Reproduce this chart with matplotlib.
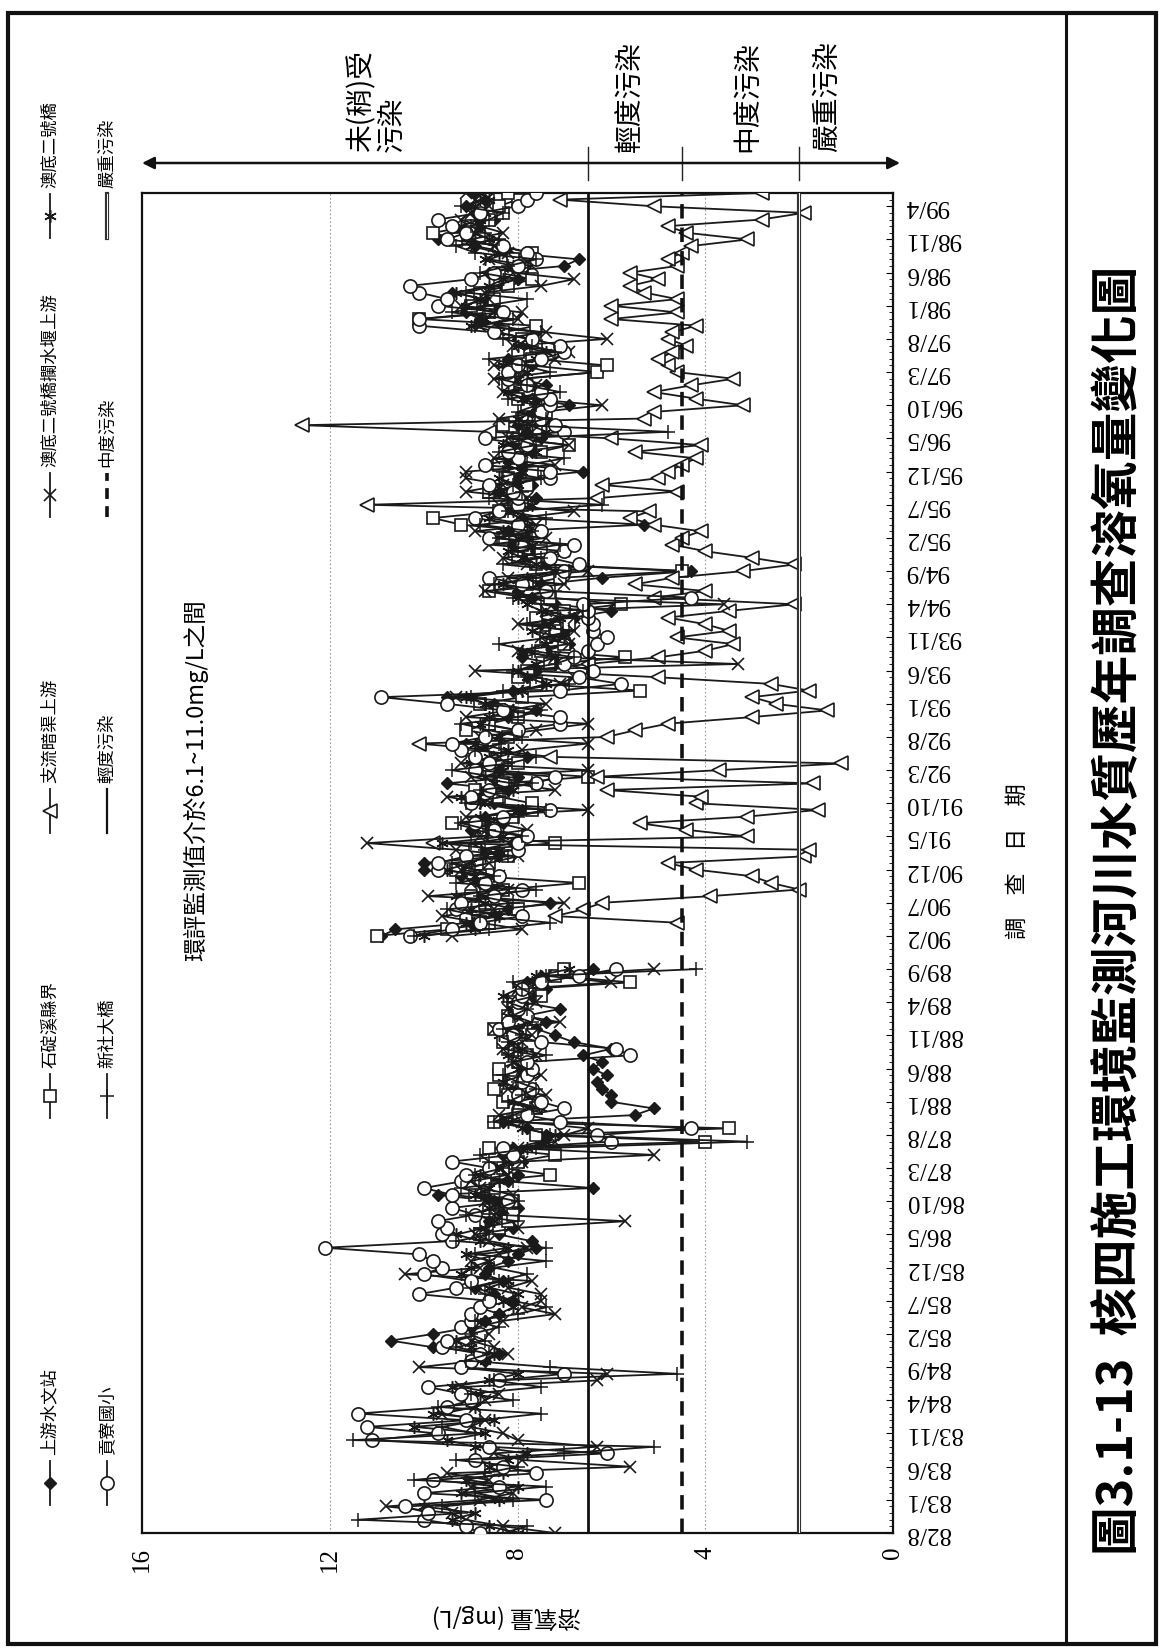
import numpy as np
import matplotlib
matplotlib.use("Agg")
import matplotlib.pyplot as plt
from matplotlib.patches import Rectangle
from matplotlib.lines import Line2D
from matplotlib.transforms import blended_transform_factory

plt.rcParams['font.family'] = ['Noto Sans CJK TC', 'DejaVu Sans']

N = None

# ---- survey date tick labels (ROC year / month), one every 5 months ----
date_labels = ["82/8", "83/1", "83/6", "83/11", "84/4", "84/9", "85/2", "85/7",
               "85/12", "86/5", "86/10", "87/3", "87/8", "88/1", "88/6", "88/11",
               "89/4", "89/9", "90/2", "90/7", "90/12", "91/5", "91/10", "92/3",
               "92/8", "93/1", "93/6", "93/11", "94/4", "94/9", "95/2", "95/7",
               "95/12", "96/5", "96/10", "97/3", "97/8", "98/1", "98/6", "98/11", "99/4"]

# ---- monthly dissolved oxygen (mg/L), 82/8 .. 99/6 ----
shangyou = [N] * 26 + [
    8.7, 8.4, 9.8, 10.7,
    9.8, 9.0, 8.7, 8.4, 8.8, 8.1, 8.5, 8.9, 8.3, 8.7,
    8.6, 8.2, 8.0, 7.6, 7.7, 8.4, 8.1, 8.6, 8.3, 8.0,
    8.5, 9.7, 6.4, 8.2, 8.0, 8.4, 7.9, 8.3, 8.1, 7.5,
    7.4, 7.8, 8.3, 5.5, 5.1, 6.0, 6.0, 6.2, 6.3, 6.1,
    6.4, 6.2, 6.6, 6.0, 6.8, 7.2, 7.6, 7.4, 7.8, 7.1,
    7.9, 7.7, 7.4, 7.8, 7.5, 6.4, N, N, N, N,
    10.9, 10.6, 9.0, 8.5, 8.2, 7.3, 8.9, 8.4, 8.8, 9.2,
    10.0, 10.0, 8.4, 8.8, 8.1, 8.6, 9.0, 8.3, 8.7, 7.9,
    8.5, 8.9, 8.2, 9.5, 8.0, 8.4, 8.8, 7.8, 8.6, 9.1,
    8.3, 8.0, 8.7, 8.2, 7.6, 8.5, 9.5, 8.1, 7.5, 7.8,
    7.6, 7.2, 7.9, 7.4, 6.9, 7.3, 7.0, 7.5, 6.8, 6.0,
    7.2, 7.7, 8.0, 7.5, 6.2, 4.3, 7.4, 7.9, 7.6, 8.1,
    7.8, 8.2, 5.3, 7.9, 8.3, 8.0, 7.6, 8.4, 7.7, 8.0,
    6.6, 7.9, 8.2, 7.7, 8.1, 7.5, 7.8, 8.0, 7.4, 7.7,
    6.9, 7.6, 8.1, 7.4, 7.9, 6.3, 7.7, 8.2, 7.5, 7.9,
    8.0, 7.6, 8.4, 8.8, 9.1, 8.5, 8.7, 9.4, 8.3, 8.0,
    8.6, 7.0, 6.7, 8.2, 8.9, 9.7, 9.3, 8.8, 8.5, 8.9,
    9.1, 8.7, 8.9]

shiding = [N] * 45 + [
    8.8, 8.4, 8.2, 8.1, 8.6,
    8.1, 8.9, 8.5, 8.7, 7.3, 8.3, 8.0, 7.2, 8.6, 4.0,
    7.6, 3.5, 8.5, 8.0, 7.6, 8.3, 8.2, 8.5, 8.1, 8.4,
    8.4, 8.0, 7.8, 8.2, 8.3, 7.7, 8.5, 8.0, 8.2, 7.9,
    8.1, 7.5, 7.8, 5.6, 7.2, 7.0, N, N, N, N,
    11.0, 9.5, 8.6, 9.1, 8.0, 8.7, 9.0, 8.3, 6.7, 8.8,
    9.3, 8.6, 8.2, 8.9, 7.2, 8.5, 8.8, 9.4, 8.1, 7.7,
    7.7, 8.4, 8.9, 8.3, 6.5, 8.6, 8.0, 8.7, 9.0, 8.5,
    8.2, 9.1, 8.6, 8.0, 8.4, 8.8, 7.9, 5.4, 7.6, 8.0,
    7.8, 7.3, 5.7, 7.5, 7.0, 7.4, 7.2, 6.9, 7.6, 7.0,
    5.8, 7.3, 8.6, 7.8, 7.1, 4.5, 7.6, 8.0, 7.5, 7.9,
    8.3, 7.6, 9.2, 9.8, 8.4, 7.9, 8.1, 8.6, 7.8, 8.2,
    7.7, 8.4, 8.0, 7.5, 6.9, 8.1, 7.6, 8.3, 7.9, 7.4,
    7.8, 8.0, 7.5, 8.2, 7.9, 6.3, 6.1, 7.7, 8.0, 7.6,
    7.9, 8.3, 7.6, 10.1, 8.6, 9.0, 8.5, 8.8, 8.2, 7.7,
    8.4, 7.9, 8.1, 7.7, 8.4, 9.3, 9.8, 9.0, 8.6, 8.3,
    8.4, 8.0, 8.2]

zhiliu = [N] * 92 + [
    4.6, 7.2, 6.6, 6.2, 3.9, 2.0, 2.6, 3.0, 4.2, 4.8,
    1.9, 1.8, 9.8, 3.1, 4.4, 5.4, 3.1, 1.6, 4.2, 4.1,
    6.1, 1.7, 6.3, 3.7, 1.1, 7.3, 8.5, 10.1, 6.1, 5.5,
    4.8, 3.0, 1.4, 2.5, 3.0, 1.8, 2.6, 5.0, 7.8, 6.5,
    5.0, 4.0, 3.4, 4.6, 3.5, 4.0, 4.8, 3.5, 2.1, 5.1,
    4.0, 5.5, 4.7, 3.2, 2.1, 3.0, 4.0, 4.7, 4.5, 4.1,
    5.1, 5.6, 5.2, 11.2, 6.3, 4.6, 6.2, 5.0, 4.8, 4.5,
    4.2, 5.5, 4.1, 6.0, 8.6, 12.6, 5.3, 5.1, 3.2, 4.2,
    5.1, 4.3, 3.4, 4.6, 4.8, 5.0, 4.7, 4.4, 4.8, 4.7,
    4.2, 6.0, 4.6, 6.0, 4.6, 5.3, 5.6, 5.0, 5.6, 4.6,
    4.8, 4.5, 4.3, 3.1, 4.4, 4.8, 2.8, 1.9, 5.1, 7.1,
    2.8]

aodi_weir = [
    7.2, 8.3, 9.1, 9.4, 10.8, 8.8, 8.1, 9.0, 8.6, 9.5,
    5.6, 7.9, 8.5, 6.3, 8.0, 8.3, 9.0, 8.7, 9.6, 8.9,
    8.7, 8.4, 9.2, 6.3, 6.1, 10.1, 8.8, 8.2, 8.5, 9.0,
    8.6, 8.9, 8.3, 7.2, 7.9, 7.5, 7.5, 8.2, 7.7, 10.4,
    8.8, 9.0, 8.4, 7.8, 8.6, 8.9, 8.0, 5.7, 8.5, 8.3,
    8.7, 8.1, 8.8, 9.0, 8.2, 8.4, 7.9, 5.1, 8.0, 7.2,
    7.0, 6.5, 7.9, 8.4, 7.6, 8.0, 7.4, 8.2, 7.8, 7.5,
    7.9, 8.1, 7.6, 8.3, 7.9, 7.7, 8.5, 7.1, 7.9, 8.2,
    7.6, 7.8, 8.0, 6.0, 7.4, 5.1, N, N, N, N,
    9.4, 7.9, 8.8, 9.6, 8.5, 7.0, 9.9, 8.2, 9.0, 8.4,
    9.2, 8.6, 8.0, 9.3, 11.2, 8.8, 7.8, 8.4, 9.1, 6.5,
    8.7, 9.5, 7.2, 8.1, 9.0, 6.5, 9.2, 8.4, 7.9, 6.5,
    8.8, 7.6, 6.5, 9.1, 8.2, 7.4, 9.3, 8.0, 7.1, 6.8,
    8.9, 3.3, 7.2, 8.0, 6.9, 7.5, 6.8, 8.0, 6.8, 7.4,
    3.6, 7.8, 8.7, 7.0, 8.2, 6.5, 7.8, 8.3, 7.0, 8.6,
    7.4, 8.9, 7.6, 8.0, 6.8, 8.4, 7.8, 9.1, 8.3, 9.1,
    9.1, 7.2, 8.5, 7.9, 6.9, 8.2, 7.7, 7.9, 8.4, 7.5,
    6.2, 7.8, 8.3, 7.6, 8.5, 8.0, 8.5, 7.2, 6.9, 8.1,
    6.1, 7.4, 8.8, 8.0, 7.9, 9.2, 8.6, 8.7, 7.5, 6.8,
    8.1, 7.7, 8.6, 8.2, 8.5, 9.0, 8.3, 8.8, 9.2, 9.0,
    8.6, 8.9, 9.1]

aodi = [
    8.0, 8.6, 9.4, 8.9, 10.0, 8.4, 9.2, 8.0, 9.1, 8.3,
    8.6, 8.2, 7.8, 8.9, 9.5, 8.7, 10.2, 8.5, 9.8, 8.9,
    9.1, 8.8, 9.4, 8.6, 8.0, 9.2, 8.7, 8.5, 9.0, 9.3,
    8.8, 9.2, 8.7, 8.4, 8.1, 8.3, 8.0, 8.6, 8.2, 9.2,
    9.0, 8.6, 9.1, 8.2, 8.8, 9.3, 8.7, 8.5, 8.9, 8.6,
    8.4, 8.9, 8.6, 8.4, 8.8, 8.5, 8.2, 8.0, 7.8, 7.4,
    7.2, 7.9, 8.2, 7.8, 7.5, 8.1, 7.7, 8.0, 8.3, 7.9,
    8.0, 7.7, 8.2, 7.9, 8.1, 8.4, 8.0, 7.8, 8.2, 8.1,
    7.9, 8.3, 8.0, 7.7, 7.6, 6.9, N, N, N, N,
    10.0, 8.9, 9.1, 8.4, 9.0, 8.7, 9.3, 8.5, 8.8, 8.9,
    9.5, 9.0, 8.7, 8.4, 9.6, 8.3, 8.9, 8.6, 8.8, 8.0,
    8.8, 9.2, 8.1, 8.5, 8.7, 8.3, 9.0, 8.6, 8.2, 8.9,
    8.4, 8.0, 8.8, 8.6, 8.1, 8.7, 9.1, 7.9, 7.4, 7.8,
    8.0, 7.6, 7.2, 7.9, 7.4, 7.0, 7.7, 7.3, 7.1, 7.5,
    7.8, 8.0, 7.4, 8.3, 7.8, 7.2, 7.6, 7.9, 8.2, 7.7,
    8.0, 8.3, 7.8, 8.6, 8.1, 7.7, 8.2, 8.5, 8.0, 8.4,
    7.9, 8.2, 8.0, 7.6, 8.3, 7.8, 7.4, 7.7, 8.0, 7.6,
    7.5, 7.9, 8.2, 7.7, 8.0, 7.8, 8.3, 7.6, 7.4, 8.0,
    7.8, 8.4, 9.0, 8.7, 8.5, 9.1, 8.8, 9.3, 8.6, 8.3,
    8.5, 8.1, 8.7, 8.4, 9.0, 8.6, 8.9, 9.2, 8.8, 8.7,
    8.9, 8.6, 8.8]

gongliao = [
    8.8, 9.1, 10.0, 9.9, 10.4, 7.4, 10.0, 8.4, 9.8, 7.6,
    8.3, 8.9, 6.1, 8.6, 11.1, 9.7, 11.2, 9.1, 11.4, 9.5,
    9.0, 9.2, 9.9, 8.4, 7.0, 9.2, 9.0, 8.8, 9.6, 9.5,
    8.8, 9.2, 9.0, 9.0, 8.8, 8.6, 10.1, 9.3, 9.0, 10.0,
    9.6, 9.8, 10.1, 12.1, 9.4, 9.6, 9.5, 9.7, 8.9, 9.4,
    8.2, 9.4, 10.0, 9.2, 9.1, 8.6, 9.4, 8.1, 8.3, 6.0,
    6.3, 4.3, 7.1, 7.8, 7.0, 7.5, 8.0, 7.7, 7.9, 7.8,
    7.7, 7.8, 5.6, 5.9, 7.5, 8.1, 8.4, 8.2, 7.8, 8.0,
    8.0, 7.9, 7.9, 7.5, 6.7, 5.9, N, N, N, N,
    10.3, 9.4, 8.8, 7.9, 9.3, 9.2, 8.5, 7.9, 8.7, 8.4,
    9.7, 9.7, 9.1, 8.0, 8.0, 7.8, 8.5, 8.9, 8.3, 7.3,
    9.0, 9.0, 8.6, 7.6, 7.2, 8.9, 8.6, 8.9, 9.2, 9.4,
    8.7, 8.0, 7.1, 7.1, 8.3, 9.5, 10.9, 7.1, 5.8, 6.7,
    6.4, 7.0, 6.8, 6.5, 6.3, 6.1, 6.4, 6.4, 6.5, 6.5,
    6.6, 4.3, 7.4, 7.9, 8.6, 7.0, 6.7, 7.3, 7.0, 6.8,
    8.6, 7.5, 8.0, 8.9, 8.4, 8.0, 8.0, 8.1, 8.6, 7.3,
    7.3, 8.7, 8.0, 8.2, 7.8, 8.7, 7.0, 7.2, 7.5, 7.5,
    7.3, 7.3, 7.5, 7.8, 8.2, 8.2, 8.0, 7.5, 7.0, 7.1,
    7.7, 8.5, 10.1, 10.1, 8.3, 9.7, 9.5, 10.1, 10.3, 9.0,
    8.5, 8.0, 7.6, 7.8, 8.3, 9.5, 9.1, 9.4, 9.7, 8.8,
    8.0, 7.8, 7.6]

xinshe = [
    8.3, 7.8, 11.4, 9.2, 9.6, 8.1, 8.9, 7.4, 10.2, 8.7,
    8.0, 9.3, 7.0, 5.1, 11.5, 8.9, 9.6, 8.8, 7.5, 9.7,
    8.1, 9.0, 7.5, 8.5, 4.6, 7.3, 9.1, 8.6, 9.3, 8.7,
    9.0, 8.4, 8.9, 8.0, 7.4, 8.1, 8.7, 9.0, 8.4, 7.8,
    8.5, 7.4, 8.9, 7.4, 9.3, 8.6, 8.8, 8.0, 9.1, 8.4,
    8.0, 8.7, 9.2, 8.1, 8.9, 8.3, 8.6, 8.8, 7.6, 3.1,
    7.3, 7.8, 8.5, 8.1, 7.7, 8.2, 7.9, 7.6, 8.0, 8.3,
    7.8, 8.1, 7.4, 8.0, 8.2, 7.9, 8.3, 7.7, 8.1, 7.8,
    8.2, 7.6, 7.9, 8.1, 7.4, 4.2, N, N, N, N,
    10.2, 8.6, 7.3, 8.8, 9.5, 8.1, 8.8, 7.6, 9.3, 8.5,
    8.9, 9.4, 8.2, 8.7, 9.0, 7.9, 8.6, 9.2, 8.0, 7.4,
    9.1, 8.3, 8.8, 7.7, 8.5, 9.4, 8.2, 7.6, 8.9, 8.4,
    7.9, 8.6, 9.2, 8.0, 7.5, 8.7, 9.0, 8.3, 6.9, 7.6,
    8.1, 7.2, 6.8, 7.7, 8.4, 7.3, 6.9, 7.8, 7.1, 6.6,
    7.5, 8.1, 7.2, 8.5, 7.6, 6.9, 8.3, 7.5, 8.0, 7.1,
    8.4, 7.7, 8.8, 7.4, 8.2, 6.2, 8.6, 7.9, 8.1, 7.5,
    8.3, 7.8, 7.0, 8.4, 7.6, 8.1, 4.8, 7.9, 7.4, 8.0,
    7.6, 8.2, 7.1, 7.8, 8.4, 7.3, 7.9, 8.6, 7.2, 7.7,
    8.3, 7.5, 8.9, 8.1, 9.4, 8.7, 7.8, 9.1, 8.5, 8.0,
    8.8, 8.2, 7.6, 8.9, 9.3, 8.4, 8.7, 9.0, 8.6, 8.3,
    9.2, 8.7, 8.5]

# RPI dissolved-oxygen class limits (mg/L)
light_limit = 6.5
moderate_limit = 4.5
severe_limit = 2.0

stations = ["上游水文站", "石碇溪縣界", "支流暗渠上游", "澳底二號橋攔水堰上游",
            "澳底二號橋", "貢寮國小", "新社大橋"]
station_values = [shangyou, shiding, zhiliu, aodi_weir, aodi, gongliao, xinshe]

category_labels = ["未(稍)受\n污染", "輕度污染", "中度污染", "嚴重污染"]

# ------------------------------------------------------------------
W, H = 1160, 1652
fig = plt.figure(figsize=(W / 100, H / 100), dpi=100)
fig.patch.set_facecolor("white")


def fx(px):
    return px / W


def fy(py):
    return 1 - py / H


ax = fig.add_axes([fx(142), fy(1533), fx(893) - fx(142), fy(193) - fy(1533)])


def month_index(label):
    y, m = label.split("/")
    return (int(y) - 82) * 12 + (int(m) - 8)


n_months = len(gongliao)
months = np.arange(n_months)

LINE = "#1a1a1a"
styles = {
    "上游水文站": dict(marker="D", ms=6.5, mfc=LINE, mec=LINE),
    "石碇溪縣界": dict(marker="s", ms=8.5, mfc="white", mec=LINE, mew=1.2),
    "支流暗渠上游": dict(marker="<", ms=10.5, mfc="white", mec=LINE, mew=1.2),
    "澳底二號橋攔水堰上游": dict(marker="x", ms=8.5, mec=LINE, mew=1.2),
    "澳底二號橋": dict(marker=(6, 2, 0), ms=9, mec=LINE, mew=1.1),
    "貢寮國小": dict(marker="o", ms=9.5, mfc="white", mec=LINE, mew=1.2),
    "新社大橋": dict(marker="+", ms=9.5, mec=LINE, mew=1.1),
}

for name, vals in zip(stations, station_values):
    v = np.array([np.nan if a is None else a for a in vals], dtype=float)
    ax.plot(v, months, color=LINE, lw=1.3, zorder=3, **styles[name])

# class limit lines
ax.axvline(light_limit, color="#111", lw=2.0, zorder=5)
ax.axvline(moderate_limit, color="#111", lw=2.6, ls=(0, (4, 2.5)), zorder=5)
ax.axvline(severe_limit, color="#333", lw=3.0, zorder=5)
ax.axvline(severe_limit, color="white", lw=0.7, zorder=5.1)

ax.set_xlim(16, 0)
ax.set_ylim(0, n_months - 1)

ax.set_xticks([16, 12, 8, 4, 0])
ax.set_xticklabels(["16", "12", "8", "4", "0"], rotation=90,
                   family="Liberation Serif", fontsize=18)
ax.tick_params(axis="x", length=0, pad=10)
for xv in (4, 8, 12):
    ax.axvline(xv, color="#9a9a9a", lw=0.8, ls=(0, (1.5, 2)), zorder=1)

ax.yaxis.tick_right()
ax.set_yticks([month_index(s) for s in date_labels])
ax.set_yticklabels(date_labels, rotation=180, family="Liberation Serif",
                   fontsize=18, va="center")
ax.set_yticks(months, minor=True)
ax.tick_params(axis="y", which="major", direction="in", length=5, pad=9, width=0.8)
ax.tick_params(axis="y", which="minor", direction="in", length=3, width=0.6)
for sp in ax.spines.values():
    sp.set_linewidth(1.6)
    sp.set_color("#111")

ax.text(14.85, 113.5, "環評監測值介於6.1~11.0mg/L之間", rotation=90,
        ha="center", va="center", fontsize=17)

# axis titles
fig.text(fx(506), fy(1617), "溶氧量 (mg/L)", rotation=180, ha="center",
         va="center", fontsize=17)
fig.text(fx(1017), fy(861), "調　查　日　期", rotation=90, ha="center",
         va="center", fontsize=16)

# pollution class scale above the plot
bt = blended_transform_factory(ax.transData, fig.transFigure)
ax.annotate("", xy=(-0.15, fy(163)), xytext=(16.0, fy(163)),
            xycoords=bt, textcoords=bt, annotation_clip=False,
            arrowprops=dict(arrowstyle="<|-|>", color="#111", lw=1.8,
                            mutation_scale=18, shrinkA=0, shrinkB=0))
for lim in (light_limit, moderate_limit, severe_limit):
    ax.add_line(Line2D([lim, lim], [fy(147), fy(180)], transform=bt,
                       color="#222", lw=1.0, clip_on=False))
cat_x = [11.0, 5.6, 3.1, 1.4]
for lab, xv in zip(category_labels, cat_x):
    ax.text(xv, fy(152), lab, transform=bt, rotation=90, ha="center",
            va="bottom", fontsize=20, multialignment="left", linespacing=1.05)

# legend, laid out in two columns to match the rotated page
leg_cols = [fx(50), fx(107)]
leg_rows = [fy(1483), fy(1096), fy(811), fy(495), fy(216)]
legend_items = [
    ("上游水文站", 0, 0), ("石碇溪縣界", 0, 1), ("支流暗渠上游", 0, 2),
    ("澳底二號橋攔水堰上游", 0, 3), ("澳底二號橋", 0, 4),
    ("貢寮國小", 1, 0), ("新社大橋", 1, 1), ("輕度污染", 1, 2),
    ("中度污染", 1, 3), ("嚴重污染", 1, 4),
]
seg = 44 / H
for name, c, r in legend_items:
    x0, y0 = leg_cols[c], leg_rows[r]
    ys = [y0 - seg / 2, y0 + seg / 2]
    if name in styles:
        st = styles[name]
        fig.add_artist(Line2D([x0, x0], ys, color=LINE, lw=1.3,
                              transform=fig.transFigure))
        fig.add_artist(Line2D([x0], [y0], color=LINE, lw=0, ls="none",
                              transform=fig.transFigure, **st))
    elif name == "輕度污染":
        fig.add_artist(Line2D([x0, x0], ys, color="#111", lw=1.6,
                              transform=fig.transFigure))
    elif name == "中度污染":
        fig.add_artist(Line2D([x0, x0], ys, color="#111", lw=2.6,
                              ls=(0, (3, 2)), transform=fig.transFigure))
    else:
        fig.add_artist(Line2D([x0, x0], ys, color="#333", lw=3.0,
                              transform=fig.transFigure))
        fig.add_artist(Line2D([x0, x0], ys, color="white", lw=0.7,
                              transform=fig.transFigure))
    fig.text(x0, y0 + seg / 2 + 6 / H, name, rotation=90, ha="center",
             va="bottom", fontsize=12.5)

# page frame and caption column
fig.add_artist(Rectangle((fx(8), fy(1644)), fx(1156) - fx(8), fy(13) - fy(1644),
                         transform=fig.transFigure, fill=False, lw=3, ec="#111"))
fig.add_artist(Line2D([fx(1066), fx(1066)], [fy(13), fy(1644)], color="#111",
                      lw=2.2, transform=fig.transFigure))
fig.text(fx(1118), fy(910), "圖3.1-13  核四施工環境監測河川水質歷年調查溶氧量變化圖",
         rotation=90, ha="center", va="center", fontsize=35, fontweight="bold")

fig.savefig("out.png", dpi=100, facecolor="white")
